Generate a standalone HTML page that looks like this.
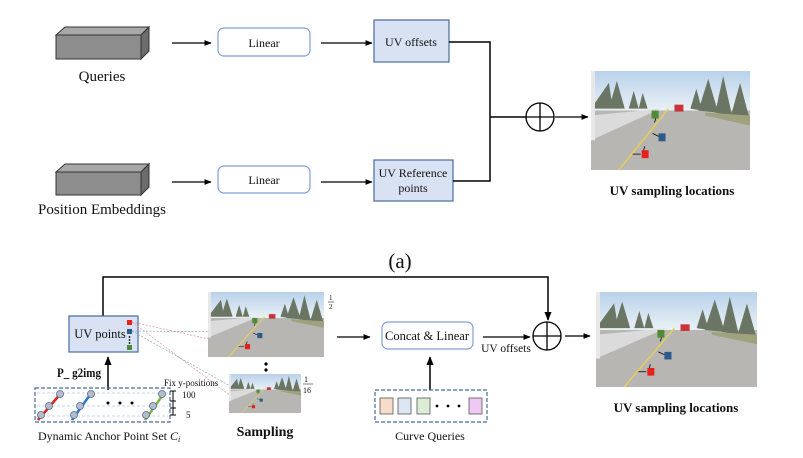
<!DOCTYPE html>
<html><head><meta charset="utf-8"><style>
body{margin:0;background:#fff}
svg{display:block}
text{font-family:"Liberation Serif",serif;fill:#111}
</style></head><body>
<svg width="803" height="458" viewBox="0 0 803 458" xmlns="http://www.w3.org/2000/svg">
<defs>
<marker id="a" viewBox="0 0 10 10" refX="9" refY="5" markerWidth="6" markerHeight="6" orient="auto"><path d="M0,1 L10,5 L0,9 z" fill="#000"/></marker>
<linearGradient id="sky" x1="0" y1="0" x2="0" y2="1"><stop offset="0" stop-color="#a9c8e6"/><stop offset="1" stop-color="#e6eef4"/></linearGradient>
<symbol id="scene" viewBox="0 0 160 100" preserveAspectRatio="none">
<rect width="160" height="100" fill="#9a9894"/>
<rect width="160" height="40" fill="url(#sky)"/>
<path d="M0,40 L160,40 L160,100 L0,100z" fill="#a8a6a2"/>
<path d="M0,45 L70,38 L0,70z" fill="#d3d4d4"/>
<path d="M0,38 L18,12 L22,38z M18,38 L26,10 L34,38z M38,38 L43,20 L48,38z M48,38 L52,22 L57,38z" fill="#4a5742"/>
<path d="M108,40 L118,8 L128,42z M125,42 L133,5 L142,45z M100,38 L106,18 L112,40z M140,48 L150,12 L160,50z" fill="#4a5742"/>
<path d="M115,42 L160,45 L160,55 L115,45z" fill="#8a8e60"/>
<rect width="160" height="100" fill="#fff" opacity="0.18"/>
<path d="M28,100 L78,38" stroke="#e6d05a" stroke-width="1.5"/>
<rect x="84" y="34" width="9" height="7" fill="#c8343a"/>
<rect x="0" y="0" width="4" height="70" fill="#e8e8e8"/>
<rect x="61" y="40" width="7" height="8" fill="#4f8a36"/>
<rect x="68" y="63" width="7" height="8" fill="#2c5a8a"/>
<rect x="51" y="80" width="7" height="8" fill="#e8201c"/>
<path d="M65,48 L64,52 M68,66 L62,63 M50,84 L42,84 M54,76 L53,80" stroke="#000" stroke-width="0.8"/>
</symbol>
</defs>

<path d="M56,35 L65,27 L149,27 L141,35z" fill="#a8a8a8" stroke="#333" stroke-width="1"/>
<path d="M141,35 L149,27 L149,51 L141,59z" fill="#6c6c6c" stroke="#333" stroke-width="1"/>
<rect x="56" y="35" width="85" height="24" fill="#8d8d8d" stroke="#333" stroke-width="1"/>
<text x="102" y="81" font-size="15" text-anchor="middle">Queries</text>
<line x1="172" y1="43" x2="211" y2="43" stroke="#000" stroke-width="1.2" marker-end="url(#a)"/>
<rect x="218" y="28" width="92" height="28" rx="6" fill="#fff" stroke="#7d9fd8" stroke-width="1.2"/>
<text x="264" y="47" font-size="12" text-anchor="middle">Linear</text>
<line x1="321" y1="43" x2="372" y2="43" stroke="#000" stroke-width="1.2" marker-end="url(#a)"/>
<rect x="374" y="20" width="75" height="42" fill="#d9e2f3" stroke="#4a6aa0" stroke-width="1.2"/>
<text x="411" y="46" font-size="12" text-anchor="middle">UV offsets</text>

<path d="M56,172 L65,164 L149,164 L141,172z" fill="#a8a8a8" stroke="#333" stroke-width="1"/>
<path d="M141,172 L149,164 L149,187 L141,195z" fill="#6c6c6c" stroke="#333" stroke-width="1"/>
<rect x="56" y="172" width="85" height="23" fill="#8d8d8d" stroke="#333" stroke-width="1"/>
<text x="102" y="214" font-size="15" text-anchor="middle">Position Embeddings</text>
<line x1="172" y1="182" x2="211" y2="182" stroke="#000" stroke-width="1.2" marker-end="url(#a)"/>
<rect x="218" y="166" width="92" height="27" rx="6" fill="#fff" stroke="#7d9fd8" stroke-width="1.2"/>
<text x="264" y="184" font-size="12" text-anchor="middle">Linear</text>
<line x1="321" y1="182" x2="372" y2="182" stroke="#000" stroke-width="1.2" marker-end="url(#a)"/>
<rect x="374" y="160" width="79" height="41" fill="#d9e2f3" stroke="#4a6aa0" stroke-width="1.2"/>
<text x="413" y="177" font-size="12" text-anchor="middle">UV Reference</text>
<text x="413" y="192" font-size="12" text-anchor="middle">points</text>

<path d="M449,42 L490,42 L490,181 L453,181 M490,117 L526,117" fill="none" stroke="#000" stroke-width="1.5"/>
<circle cx="540" cy="117" r="14" fill="#fff" stroke="#000" stroke-width="1.3"/>
<path d="M526,117 L554,117 M540,103 L540,131" stroke="#000" stroke-width="1.3"/>
<line x1="555" y1="117" x2="588" y2="117" stroke="#000" stroke-width="1.2" marker-end="url(#a)"/>
<use href="#scene" x="591" y="71" width="159" height="99"/>
<text x="672" y="195" font-size="13" font-weight="bold" text-anchor="middle">UV sampling locations</text>

<text x="400" y="268" font-size="21" text-anchor="middle">(a)</text>

<path d="M103,316 L103,277 L548,277 L548,320" fill="none" stroke="#000" stroke-width="1.5" marker-end="url(#a)"/>
<rect x="69" y="316" width="69" height="36" fill="#d9e2f3" stroke="#4a6aa0" stroke-width="1.2"/>
<text x="100" y="338" font-size="12.5" text-anchor="middle">UV points</text>
<rect x="127" y="320" width="5" height="5" fill="#e8201c"/>
<rect x="127" y="329" width="5" height="5" fill="#2c5a8a"/>
<circle cx="129.5" cy="337" r="0.9"/><circle cx="129.5" cy="340" r="0.9"/><circle cx="129.5" cy="343" r="0.9"/>
<rect x="127" y="345" width="5" height="5" fill="#4f8a36"/>
<path d="M132,322 L245,347 M132,322 L251,411" stroke="#e89090" stroke-width="0.7" stroke-dasharray="2,1.5" fill="none"/>
<path d="M132,331 L253,332 M132,331 L257,401" stroke="#8aa4d0" stroke-width="0.7" stroke-dasharray="2,1.5" fill="none"/>
<line x1="108" y1="390" x2="108" y2="357" stroke="#000" stroke-width="1.5" marker-end="url(#a)"/>
<text x="57" y="377" font-size="12.5" font-weight="bold" textLength="44" lengthAdjust="spacingAndGlyphs">P_ g2img</text>

<rect x="35" y="388" width="135" height="34" fill="none" stroke="#4a6aa0" stroke-width="1.2" stroke-dasharray="4,2"/>
<path d="M37,393 L168,393 M37,406 L168,406 M37,416 L168,416" stroke="#b8c6e0" stroke-width="0.8" stroke-dasharray="3,2"/>
<line x1="38" y1="420" x2="62" y2="392" stroke="#e8201c" stroke-width="2.5"/>
<line x1="72" y1="420" x2="92" y2="392" stroke="#2a78c8" stroke-width="2.5"/>
<line x1="145" y1="420" x2="165" y2="392" stroke="#7cb83a" stroke-width="2.5"/>
<g fill="#b8bcc8" stroke="#4a6aa0" stroke-width="0.8">
<circle cx="41" cy="415" r="3.5"/><circle cx="49" cy="406" r="3.5"/><circle cx="60" cy="394" r="3.5"/>
<circle cx="74" cy="415" r="3.5"/><circle cx="80" cy="406" r="3.5"/><circle cx="91" cy="394" r="3.5"/>
<circle cx="146" cy="415" r="3.5"/><circle cx="153" cy="406" r="3.5"/><circle cx="162" cy="394" r="3.5"/>
</g>
<circle cx="108" cy="403" r="1.5"/><circle cx="120" cy="403" r="1.5"/><circle cx="132" cy="403" r="1.5"/>
<path d="M170,391 L176,391 M173,391 L173,415 M170,401 L176,401 M170,408 L176,408 M170,415 L176,415" stroke="#000" stroke-width="1"/>
<text x="164" y="386" font-size="9">Fix y-positions</text>
<text x="182" y="398" font-size="9">100</text>
<text x="186" y="418" font-size="9">5</text>
<text x="38" y="440" font-size="12">Dynamic Anchor Point Set <tspan font-style="italic">C</tspan><tspan font-style="italic" font-size="8" dy="2">i</tspan></text>

<use href="#scene" x="208" y="292" width="116" height="65"/>
<text x="329" y="300" font-size="7">1</text><line x1="328" y1="302" x2="334" y2="302" stroke="#000" stroke-width="0.5"/><text x="329" y="309" font-size="7">2</text>
<circle cx="266" cy="364" r="1.6"/><circle cx="266" cy="370" r="1.6"/><circle cx="266" cy="376" r="1.6"/>
<use href="#scene" x="229" y="374" width="72" height="39"/>
<text x="304" y="382" font-size="8">1</text><line x1="303" y1="384" x2="313" y2="384" stroke="#000" stroke-width="0.5"/><text x="303" y="393" font-size="8">16</text>
<text x="265" y="436" font-size="14" font-weight="bold" text-anchor="middle">Sampling</text>

<line x1="337" y1="337" x2="370" y2="337" stroke="#000" stroke-width="1.2" marker-end="url(#a)"/>
<rect x="382" y="322" width="91" height="27" rx="6" fill="#fff" stroke="#7d9fd8" stroke-width="1.2"/>
<text x="427" y="340" font-size="12.5" text-anchor="middle">Concat &amp; Linear</text>
<line x1="483" y1="337" x2="530" y2="337" stroke="#000" stroke-width="1.2" marker-end="url(#a)"/>
<text x="506" y="352" font-size="11.5" text-anchor="middle">UV offsets</text>
<circle cx="547" cy="336" r="14" fill="#fff" stroke="#000" stroke-width="1.3"/>
<path d="M533,336 L561,336 M547,322 L547,350" stroke="#000" stroke-width="1.3"/>
<line x1="565" y1="336" x2="590" y2="336" stroke="#000" stroke-width="1.2" marker-end="url(#a)"/>

<line x1="430" y1="390" x2="430" y2="357" stroke="#000" stroke-width="1.5" marker-end="url(#a)"/>
<rect x="375" y="390" width="112" height="32" fill="none" stroke="#4a6aa0" stroke-width="1.2" stroke-dasharray="4,2"/>
<rect x="380" y="398" width="13" height="16" fill="#f8dccb" stroke="#555" stroke-width="0.8"/>
<rect x="398" y="398" width="13" height="16" fill="#dce7f3" stroke="#555" stroke-width="0.8"/>
<rect x="417" y="398" width="13" height="16" fill="#dcecd6" stroke="#555" stroke-width="0.8"/>
<circle cx="437" cy="406" r="1.4"/><circle cx="448" cy="406" r="1.4"/><circle cx="459" cy="406" r="1.4"/>
<rect x="469" y="398" width="13" height="16" fill="#f0c8f4" stroke="#555" stroke-width="0.8"/>
<text x="430" y="440" font-size="12" text-anchor="middle">Curve Queries</text>

<use href="#scene" x="596" y="292" width="161" height="95"/>
<text x="676" y="412" font-size="13" font-weight="bold" text-anchor="middle">UV sampling locations</text>
</svg>
</body></html>
